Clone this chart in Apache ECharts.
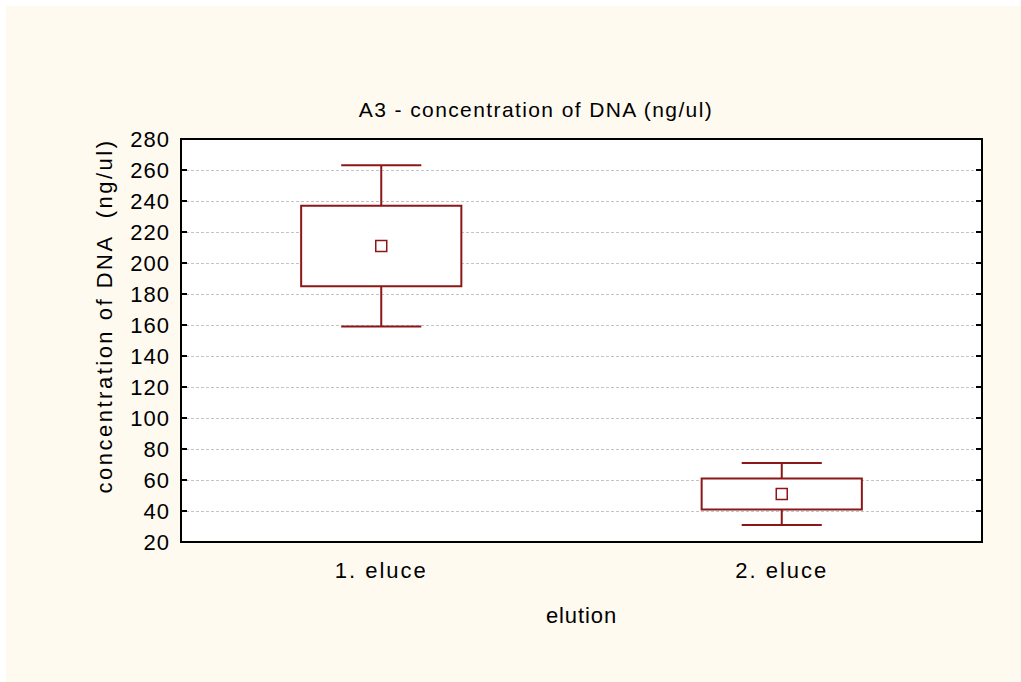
<!DOCTYPE html>
<html>
<head>
<meta charset="utf-8">
<title>A3 - concentration of DNA (ng/ul)</title>
<script src="https://cdn.jsdelivr.net/npm/echarts@6/dist/echarts.min.js"></script>
<style>
  html, body { margin: 0; padding: 0; background: #ffffff; }
  #chart { width: 1021px; height: 682px; }
</style>
</head>
<body>
<div id="chart"></div>
<script>
// Elution groups and their summary statistics (ng/ul)
const categories = ['1. eluce', '2. eluce'];
const means = [211, 51];
const boxLow = [185, 41];      // mean - SE
const boxHigh = [237, 61];     // mean + SE
const whiskerLow = [159, 31];  // mean - SD
const whiskerHigh = [263, 71]; // mean + SD
const yTicks = [20, 40, 60, 80, 100, 120, 140, 160, 180, 200, 220, 240, 260, 280];

const titleText = 'A3 - concentration of DNA (ng/ul)';
const xName = 'elution';
const yName = 'concentration of DNA  (ng/ul)';

const boxColor = '#8c1717';
const fontFamily = '"Liberation Sans", Arial, sans-serif';
const labelSize = 22;

const seriesData = categories.map((c, i) =>
  [i, means[i], boxLow[i], boxHigh[i], whiskerLow[i], whiskerHigh[i]]);

function renderBox(params, api) {
  const idx = api.value(0);
  const band = api.size([1, 0])[0];
  const boxW = band * 0.4;
  const capW = boxW * 0.5;
  const mean = api.coord([idx, api.value(1)]);
  const bLo = api.coord([idx, api.value(2)]);
  const bHi = api.coord([idx, api.value(3)]);
  const wLo = api.coord([idx, api.value(4)]);
  const wHi = api.coord([idx, api.value(5)]);
  const cx = mean[0];
  const line = { stroke: boxColor, lineWidth: 2, fill: null };
  const m = 5.5;
  return {
    type: 'group',
    children: [
      { type: 'line', shape: { x1: cx, y1: wHi[1], x2: cx, y2: bHi[1] }, style: line },
      { type: 'line', shape: { x1: cx, y1: bLo[1], x2: cx, y2: wLo[1] }, style: line },
      { type: 'line', shape: { x1: cx - capW / 2, y1: wHi[1], x2: cx + capW / 2, y2: wHi[1] }, style: line },
      { type: 'line', shape: { x1: cx - capW / 2, y1: wLo[1], x2: cx + capW / 2, y2: wLo[1] }, style: line },
      { type: 'rect', shape: { x: cx - boxW / 2, y: bHi[1], width: boxW, height: bLo[1] - bHi[1] },
        style: { stroke: boxColor, lineWidth: 2, fill: '#ffffff' } },
      { type: 'rect', shape: { x: cx - m, y: mean[1] - m, width: 2 * m, height: 2 * m },
        style: { stroke: boxColor, lineWidth: 1.5, fill: '#ffffff' } }
    ]
  };
}

const chart = echarts.init(document.getElementById('chart'), null, { renderer: 'svg' });

chart.setOption({
  backgroundColor: '#ffffff',
  animation: false,
  graphic: [
    { type: 'rect', z: -10, silent: true,
      shape: { x: 6, y: 6, width: 1015, height: 676 },
      style: { fill: '#fffaf0' } },
    { type: 'text', silent: true,
      style: { text: titleText, x: 536, y: 109,
        textAlign: 'center', textVerticalAlign: 'middle',
        font: '21px ' + fontFamily, fill: '#000000' } },
    { type: 'text', silent: true,
      x: 104, y: 316, rotation: Math.PI / 2,
      style: { text: yName, x: 0, y: 0,
        textAlign: 'center', textVerticalAlign: 'middle',
        font: labelSize + 'px ' + fontFamily, fill: '#000000' } }
  ],
  grid: {
    left: 181, right: 39, top: 139, bottom: 140,
    show: true, backgroundColor: '#ffffff',
    borderColor: '#000000', borderWidth: 2
  },
  xAxis: [{
    type: 'category',
    data: categories,
    boundaryGap: true,
    name: xName,
    nameLocation: 'middle',
    nameGap: 62,
    nameTextStyle: { fontSize: labelSize, fontFamily: fontFamily, color: '#000' },
    axisLine: { lineStyle: { color: '#000', width: 2 } },
    axisTick: { inside: true, alignWithLabel: true, length: 6, lineStyle: { color: '#000', width: 2 } },
    axisLabel: { margin: 17, fontSize: labelSize, fontFamily: fontFamily, color: '#000' },
    splitLine: { show: false }
  }, {
    type: 'category',
    data: categories,
    position: 'top',
    axisLine: { show: true, lineStyle: { color: '#000', width: 2 } },
    axisTick: { show: false },
    axisLabel: { show: false },
    splitLine: { show: false }
  }],
  yAxis: [{
    type: 'value',
    min: yTicks[0],
    max: yTicks[yTicks.length - 1],
    interval: yTicks[1] - yTicks[0],
    axisLine: { show: true, lineStyle: { color: '#000', width: 2 } },
    axisTick: { show: true, inside: true, length: 6, lineStyle: { color: '#000', width: 2 } },
    axisLabel: { margin: 11, fontSize: labelSize, fontFamily: fontFamily, color: '#000' },
    splitLine: { show: true, lineStyle: { color: '#c4c4c4', type: [3, 2], width: 1 } }
  }, {
    type: 'value',
    position: 'right',
    min: yTicks[0],
    max: yTicks[yTicks.length - 1],
    interval: yTicks[1] - yTicks[0],
    axisLine: { show: true, lineStyle: { color: '#000', width: 2 } },
    axisTick: { show: true, inside: true, length: 6, lineStyle: { color: '#000', width: 2 } },
    axisLabel: { show: false },
    splitLine: { show: false }
  }],
  series: [{
    type: 'custom',
    renderItem: renderBox,
    encode: { x: 0, y: [1, 2, 3, 4, 5] },
    data: seriesData,
    z: 5
  }]
});

// Widen the letter spacing of the text to the looser set of the original typeface
function applyLetterSpacing() {
  document.querySelectorAll('#chart svg text').forEach(function (t) {
    const s = t.textContent;
    let ls = 1;
    if (s === titleText) ls = 1.4;
    else if (s === yName) ls = 2.5;
    else if (categories.indexOf(s) >= 0) ls = 2;
    else if (s === xName) ls = 0.9;
    t.style.letterSpacing = ls + 'px';
  });
}
applyLetterSpacing();
chart.on('finished', applyLetterSpacing);
</script>
</body>
</html>
